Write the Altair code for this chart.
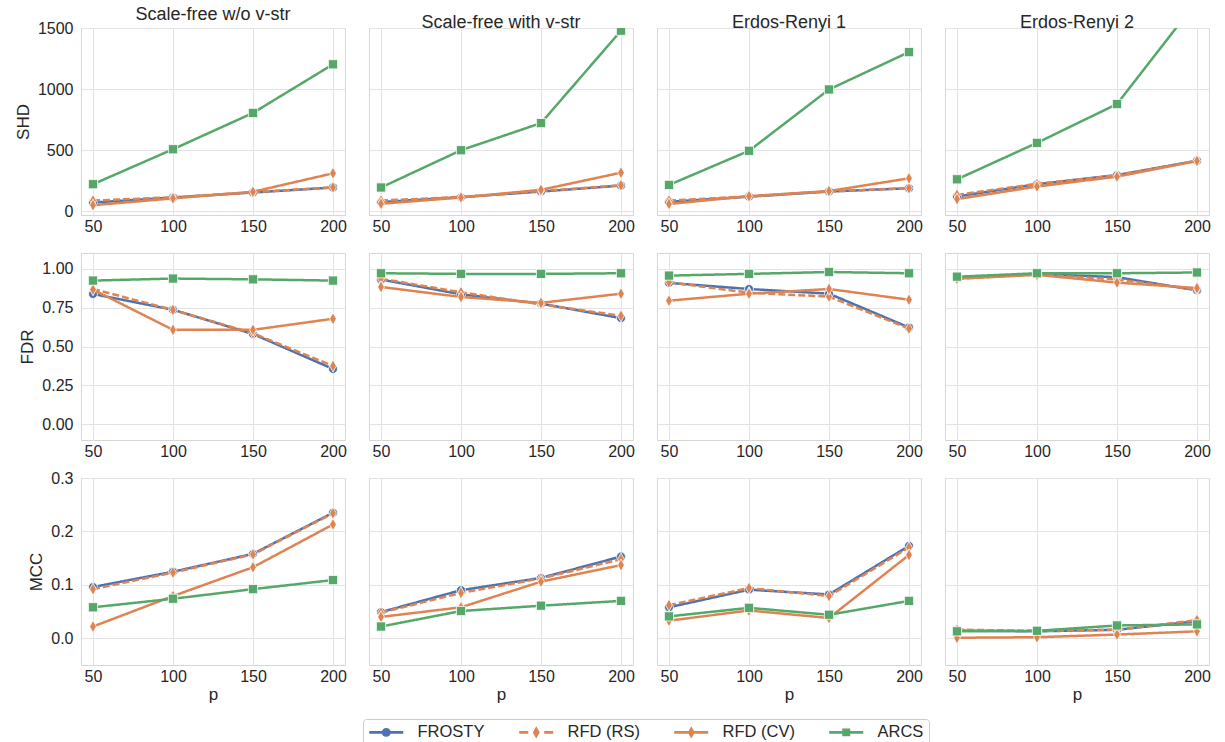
import altair as alt
import pandas as pd

P = [50, 100, 150, 200]
SERIES = ["FROSTY", "RFD (RS)", "RFD (CV)", "ARCS"]
GRAPHS = ["Scale-free w/o v-str", "Scale-free with v-str", "Erdos-Renyi 1", "Erdos-Renyi 2"]
COLORS = ["#4c72b0", "#dd8452", "#dd8452", "#55a868"]
DASHES = [[1, 0], [7, 3], [1, 0], [1, 0]]

# per graph type: FROSTY, RFD (RS), RFD (CV), ARCS  (values at p = 50, 100, 150, 200)
SHD = {
    "Scale-free w/o v-str": [[72, 113, 154, 195], [88, 115, 157, 196], [50, 106, 160, 311], [222, 508, 805, 1203]],
    "Scale-free with v-str": [[76, 116, 162, 211], [88, 118, 166, 213], [62, 113, 176, 316], [195, 500, 722, 1478]],
    "Erdos-Renyi 1": [[78, 120, 162, 189], [88, 122, 163, 190], [60, 124, 166, 270], [216, 495, 997, 1303]],
    "Erdos-Renyi 2": [[122, 222, 297, 414], [135, 225, 294, 413], [100, 203, 284, 412], [262, 560, 878, 1720]],
}
FDR = {
    "Scale-free w/o v-str": [[0.837, 0.736, 0.58, 0.356], [0.869, 0.735, 0.585, 0.375], [0.865, 0.607, 0.607, 0.678], [0.923, 0.936, 0.931, 0.923]],
    "Scale-free with v-str": [[0.93, 0.835, 0.775, 0.682], [0.935, 0.848, 0.77, 0.697], [0.882, 0.818, 0.78, 0.839], [0.97, 0.966, 0.966, 0.97]],
    "Erdos-Renyi 1": [[0.908, 0.869, 0.839, 0.622], [0.912, 0.845, 0.82, 0.615], [0.794, 0.839, 0.869, 0.80], [0.955, 0.966, 0.978, 0.97]],
    "Erdos-Renyi 2": [[0.94, 0.965, 0.945, 0.86], [0.935, 0.962, 0.93, 0.865], [0.935, 0.96, 0.91, 0.875], [0.948, 0.97, 0.97, 0.975]],
}
MCC = {
    "Scale-free w/o v-str": [[0.096, 0.1245, 0.158, 0.235], [0.092, 0.123, 0.157, 0.234], [0.022, 0.079, 0.133, 0.213], [0.058, 0.074, 0.092, 0.109]],
    "Scale-free with v-str": [[0.049, 0.09, 0.113, 0.153], [0.048, 0.085, 0.112, 0.148], [0.04, 0.058, 0.106, 0.137], [0.022, 0.051, 0.061, 0.07]],
    "Erdos-Renyi 1": [[0.058, 0.091, 0.082, 0.173], [0.062, 0.094, 0.079, 0.17], [0.033, 0.052, 0.038, 0.156], [0.041, 0.057, 0.044, 0.07]],
    "Erdos-Renyi 2": [[0.0145, 0.013, 0.016, 0.032], [0.016, 0.014, 0.016, 0.034], [0.001, 0.002, 0.007, 0.013], [0.013, 0.014, 0.024, 0.026]],
}

METRICS = [
    ("SHD", SHD, [-30, 1500], [0, 500, 1000, 1500], "d"),
    ("FDR", FDR, [-0.1, 1.1], [0, 0.25, 0.5, 0.75, 1.0], ".2f"),
    ("MCC", MCC, [-0.05, 0.3], [0, 0.1, 0.2, 0.3], ".1f"),
]

THIN_DIAMOND = "M0,-1L0.55,0L0,1L-0.55,0Z"
MARKERS = [("circle", 80), (THIN_DIAMOND, 150), (THIN_DIAMOND, 150), ("square", 85)]

# legend glyphs (filled outlines): a line segment with the series marker in its middle
LINE_FULL = "M-1,-0.18H3.857V0.18H-1Z"
LINE_DASHED = "M-1,-0.18H0.29V0.18H-1ZM2.57,-0.18H3.857V0.18H2.57Z"
DIAMOND_MID = "M1.4286,-0.86L1.93,0L1.4286,0.86L0.93,0Z"
LEGEND_PATHS = [
    LINE_FULL + "M0.79,0A0.64,0.64,0,1,1,2.07,0A0.64,0.64,0,1,1,0.79,0Z",
    LINE_DASHED + DIAMOND_MID,
    LINE_FULL + DIAMOND_MID,
    LINE_FULL + "M0.857,-0.571H2V0.571H0.857Z",
]

FONT = "Liberation Sans"
TEXT = "#262626"
W, H = 264, 187


def legend_spec():
    return alt.Legend(
        title=None, orient="none", legendX=282, legendY=691,
        direction="horizontal", columns=4, symbolSize=196,
        symbolStrokeWidth=0, symbolOpacity=1, labelOffset=33,
        columnPadding=33, padding=5, strokeColor="#cccccc",
        fillColor="white", cornerRadius=3, labelFont=FONT,
        labelFontSize=16.5, labelColor=TEXT,
    )


def panel(row, col):
    name, table, domain, ticks, fmt = METRICS[row]
    graph = GRAPHS[col]
    x = alt.X(
        "p:Q",
        scale=alt.Scale(domain=[42.5, 207.5], nice=False, zero=False),
        axis=alt.Axis(values=P, format="d", title="p" if row == 2 else None,
                      labelPadding=3, titlePadding=2),
    )
    if col == 0:
        yaxis = alt.Axis(values=ticks, format=fmt, title=name, labelPadding=8, titlePadding=5)
    else:
        yaxis = alt.Axis(values=ticks, labels=False, title=None)
    y = alt.Y("value:Q", scale=alt.Scale(domain=domain, nice=False, zero=False), axis=yaxis)

    layers = []
    for i, s in enumerate(SERIES):
        df = pd.DataFrame({"p": P, "value": table[graph][i], "series": s})
        base = alt.Chart(df).encode(x=x, y=y)
        layers.append(base.mark_line(color=COLORS[i], strokeWidth=2.5, strokeDash=DASHES[i], clip=True))
        shape, size = MARKERS[i]
        layers.append(base.mark_point(shape=shape, size=size, filled=True, fill=COLORS[i], opacity=1,
                                      stroke="white", strokeWidth=0.8, clip=True))

    if row == 2 and col == 0:
        rows = []
        for i, s in enumerate(SERIES):
            for pv, v in zip(P, table[graph][i]):
                rows.append({"p": pv, "value": v, "series": s})
        legend_df = pd.DataFrame(rows)
        layers.append(
            alt.Chart(legend_df).mark_point(filled=True, opacity=0).encode(
                x=x, y=y,
                color=alt.Color("series:N", scale=alt.Scale(domain=SERIES, range=COLORS),
                                legend=legend_spec()),
                shape=alt.Shape("series:N", scale=alt.Scale(domain=SERIES, range=LEGEND_PATHS),
                                legend=legend_spec()),
            )
        )

    chart = alt.layer(*layers).properties(width=W, height=H)
    if row == 0:
        chart = chart.properties(title=alt.TitleParams(graph, offset=-4))
    return chart


panels = [panel(r, c) for r in range(3) for c in range(4)]

chart = alt.concat(*panels, columns=4, spacing={"row": 38, "column": 24}, bounds="flush").properties(
    padding={"left": 13, "top": 5, "right": 10, "bottom": 10}, background="white"
).configure_view(
    stroke="#d6d6d6", strokeWidth=1
).configure_axis(
    labelFont=FONT, labelFontSize=16, labelColor=TEXT,
    titleFont=FONT, titleFontSize=17, titleFontWeight="normal", titleColor=TEXT,
    gridColor="#e2e2e2", gridWidth=1, domain=False, ticks=False,
).configure_title(
    font=FONT, fontSize=18, fontWeight="normal", color=TEXT, anchor="middle"
)

chart.save("out.html", embed_options={"renderer": "svg", "actions": False})
